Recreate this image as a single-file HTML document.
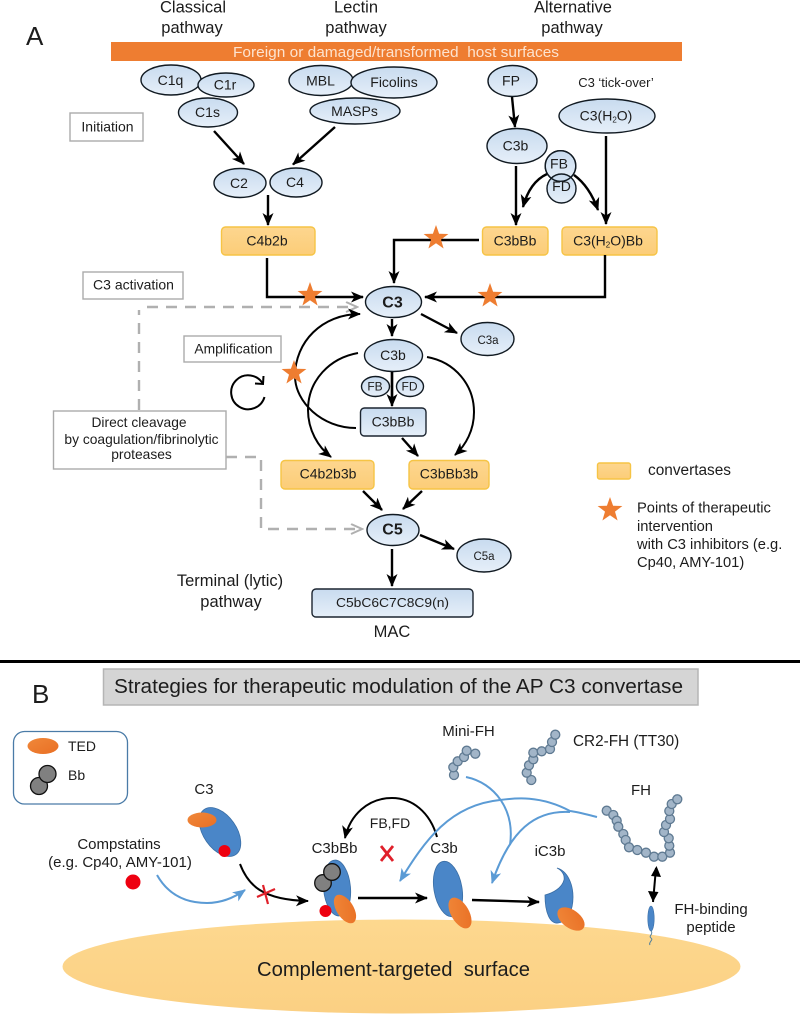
<!DOCTYPE html>
<html><head><meta charset="utf-8"><style>
html,body{margin:0;padding:0;background:#fff}
svg{display:block}
text{font-family:"Liberation Sans",sans-serif;fill:#1c1c1c;text-anchor:middle}
.l{text-anchor:start}
.n{stroke:#111a22;stroke-width:1.4;fill:url(#nb)}
.r{stroke:#1c2530;stroke-width:1.4;fill:url(#nb)}
.o{stroke:#f6c445;stroke-width:1.4;fill:url(#ob)}
.k{fill:none;stroke:#000;stroke-width:2.4;marker-end:url(#a)}
.k0{fill:none;stroke:#000;stroke-width:2.4}
.t{fill:none;stroke:#000;stroke-width:2;marker-end:url(#a)}
.g{fill:#fff;stroke:#aaa;stroke-width:1.4}
.d{fill:none;stroke:#b0b0b0;stroke-width:2.4;stroke-dasharray:11 8}
.bl{fill:none;stroke:#5b9bd5;stroke-width:2;marker-end:url(#ab)}
.b{fill:#a2b5c8;stroke:#5f7a92;stroke-width:1.3}
.p{fill:#4a86c8;stroke:#3a6ea5;stroke-width:.8}
.te{fill:url(#tg)}
.s13{font-size:13.8px}.s14{font-size:14px}.s15{font-size:15px}.s16{font-size:16.5px}
</style></head><body>
<svg width="800" height="1014" viewBox="0 0 800 1014" xmlns="http://www.w3.org/2000/svg">
<defs>
<linearGradient id="nb" x1="0" y1="0" x2="0" y2="1"><stop offset="0" stop-color="#c8dbef"/><stop offset="1" stop-color="#e6eff9"/></linearGradient>
<linearGradient id="ob" x1="0" y1="0" x2="0" y2="1"><stop offset="0" stop-color="#fdd68f"/><stop offset="1" stop-color="#fccd78"/></linearGradient>
<linearGradient id="tg" x1="0" y1="0" x2="1" y2="1"><stop offset="0" stop-color="#f0883a"/><stop offset="1" stop-color="#e96f24"/></linearGradient>
<linearGradient id="sf" x1="0" y1="0" x2="0" y2="1"><stop offset="0" stop-color="#fdd88f"/><stop offset="1" stop-color="#fbd083"/></linearGradient>
<marker id="a" markerUnits="userSpaceOnUse" markerWidth="14" markerHeight="12" refX="12" refY="5.5" orient="auto"><path d="M0,0 L13,5.5 L0,11 L3.5,5.5z" fill="#000"/></marker>
<marker id="ag" markerUnits="userSpaceOnUse" markerWidth="14" markerHeight="12" refX="12" refY="5.5" orient="auto"><path d="M1,0.5 L12,5.5 L1,10.5" fill="none" stroke="#b0b0b0" stroke-width="2"/></marker>
<marker id="ab" markerUnits="userSpaceOnUse" markerWidth="14" markerHeight="12" refX="12" refY="5.5" orient="auto"><path d="M0,0 L13,5.5 L0,11 L3.5,5.5z" fill="#5b9bd5"/></marker>
<polygon id="star" fill="#ee7d31" points="0,-13 3.1,-4.2 12.4,-4 5,1.6 7.6,10.5 0,5.2 -7.6,10.5 -5,1.6 -12.4,-4 -3.1,-4.2"/>
</defs>
<rect width="800" height="1014" fill="#fff"/>

<!-- Panel A -->
<text class="l" x="26" y="45" font-size="26">A</text>
<text class="s16" x="193" y="12.500">Classical</text><text class="s16" x="192" y="33">pathway</text>
<text class="s16" x="356" y="12.500">Lectin</text><text class="s16" x="356" y="33">pathway</text>
<text class="s16" x="573" y="12.500">Alternative</text><text class="s16" x="572" y="33">pathway</text>
<rect x="111" y="42" width="571" height="19" fill="#ee7d31"/>
<text x="396" y="57" font-size="15" style="fill:#fde3cf" xml:space="preserve" textLength="326" lengthAdjust="spacingAndGlyphs">Foreign or damaged/transformed  host surfaces</text>

<ellipse class="n" cx="171" cy="80" rx="30" ry="15"/>
<ellipse class="n" cx="226" cy="85" rx="28" ry="12"/>
<ellipse class="n" cx="208" cy="112.500" rx="29.500" ry="14.500"/>
<ellipse class="n" cx="321" cy="80.500" rx="32" ry="15"/>
<ellipse class="n" cx="394" cy="82.500" rx="43" ry="15.500"/>
<ellipse class="n" cx="355" cy="111" rx="45" ry="13"/>
<ellipse class="n" cx="512.500" cy="81" rx="24.500" ry="15.500"/>
<ellipse class="n" cx="607" cy="116" rx="48" ry="17"/>
<ellipse class="n" cx="517" cy="146" rx="30" ry="17.500"/>
<ellipse class="n" cx="240" cy="183" rx="26" ry="14.500"/>
<ellipse class="n" cx="296" cy="182.500" rx="26" ry="14.500"/>
<rect class="o" x="221.500" y="227" width="93.500" height="28" rx="4"/>
<rect class="o" x="482.500" y="227" width="65.500" height="28" rx="4"/>
<rect class="o" x="562" y="227" width="95" height="28" rx="4"/>

<text class="s14" x="170.500" y="85">C1q</text>
<text class="s14" x="225" y="89.500">C1r</text>
<text class="s14" x="207.500" y="117">C1s</text>
<text class="s14" x="320.500" y="85.500">MBL</text>
<text class="s14" x="394" y="87">Ficolins</text>
<text class="s14" x="354.500" y="116">MASPs</text>
<text class="s14" x="511" y="85.500">FP</text>
<text x="616" y="87" font-size="13">C3 ‘tick-over’</text>
<text class="s14" x="606" y="120.500">C3(H<tspan font-size="8" dy="2">2</tspan><tspan dy="-2">O)</tspan></text>
<text class="s14" x="515.500" y="150.500">C3b</text>
<text class="s14" x="239" y="188">C2</text>
<text class="s14" x="295" y="187">C4</text>
<text class="s14" x="267" y="245.500">C4b2b</text>
<text class="s14" x="515" y="245.500">C3bBb</text>
<text class="s14" x="608" y="245.500">C3(H<tspan font-size="8" dy="2">2</tspan><tspan dy="-2">O)Bb</tspan></text>

<rect class="g" x="70" y="113" width="73" height="28"/><text class="s14" x="107.500" y="131.500">Initiation</text>
<rect class="g" x="83" y="272" width="100" height="27"/><text class="s14" x="133.500" y="289.500">C3 activation</text>
<rect class="g" x="184" y="336" width="97" height="26"/><text class="s13" x="233.500" y="353.500">Amplification</text>
<rect class="g" x="53.500" y="411" width="172.500" height="58"/>
<text class="s13" x="139" y="427">Direct cleavage</text>
<text class="s13" x="141.500" y="444">by coagulation/fibrinolytic</text>
<text class="s13" x="141.500" y="459">proteases</text>

<!-- Arrows top -->
<line class="k" x1="214" y1="131" x2="244" y2="164"/>
<line class="k" x1="335" y1="127" x2="293" y2="164.500"/>
<line class="k" x1="268" y1="195" x2="268" y2="225"/>
<path class="k" d="M267,258V297H363"/>
<path class="k" d="M479,240H394V283"/>
<path class="k" d="M605,255V297H425"/>
<line class="k" x1="512" y1="97" x2="515" y2="127"/>
<line class="k" x1="516" y1="166" x2="516" y2="225"/>
<line class="k" x1="606" y1="136" x2="606" y2="224"/>
<path class="k" d="M547,174C534,180 527,192 523,207"/>
<path class="k" d="M574,175C585,183 593,196 598,210"/>
<circle class="n" cx="560.500" cy="166" r="15.300"/>
<circle class="n" cx="561.500" cy="188.500" r="14.500"/>
<circle class="n" cx="560.500" cy="166" r="15.300" style="fill:none"/>
<text class="s14" x="559" y="168.500">FB</text>
<text class="s14" x="561.500" y="191">FD</text>

<!-- Dashed -->
<path class="d" d="M139,410V310"/>
<path class="d" d="M147,307H357" marker-end="url(#ag)"/>
<path class="d" d="M226,457H261V529H362" marker-end="url(#ag)"/>

<!-- Lower nodes -->
<path class="t" d="M356,428C322,428 295,402 295,376C295,342 322,314 360,314"/>
<path class="t" d="M358,353C330,358 308,380 308,410C308,430 318,447 331,457"/>
<path class="t" d="M427,357C455,362 474,385 474,412C474,430 466,445 455,455"/>
<line class="k" x1="421" y1="314" x2="457" y2="333"/>
<line class="k" x1="392" y1="319" x2="392" y2="336"/>
<line class="k" x1="392" y1="372" x2="392" y2="406"/>
<line class="k" x1="402" y1="438" x2="418" y2="456"/>
<line class="k" x1="363" y1="491" x2="382" y2="510"/>
<line class="k" x1="422" y1="491" x2="403" y2="509"/>
<line class="k" x1="420" y1="535" x2="454" y2="549"/>
<line class="k" x1="392" y1="549" x2="392" y2="586"/>

<ellipse class="n" cx="393.500" cy="302" rx="28" ry="15.500"/>
<ellipse class="n" cx="487.500" cy="339" rx="26.500" ry="16.500"/>
<ellipse class="n" cx="393.500" cy="355.500" rx="29" ry="16"/>
<ellipse class="n" cx="375.500" cy="386.500" rx="14" ry="10"/>
<ellipse class="n" cx="410" cy="386.500" rx="13.500" ry="10"/>
<line class="k0" x1="392" y1="372" x2="392" y2="400"/>
<rect class="r" x="360.500" y="408" width="65.500" height="28" rx="4"/>
<rect class="o" x="281" y="460.500" width="93" height="28.500" rx="4"/>
<rect class="o" x="409" y="460.500" width="80" height="28.500" rx="4"/>
<ellipse class="n" cx="393" cy="530" rx="26" ry="15.500"/>
<ellipse class="n" cx="484" cy="555.500" rx="27" ry="16.500"/>
<rect class="r" x="312" y="589" width="161" height="28" rx="4"/>

<text x="392.500" y="307.500" font-size="16" font-weight="bold">C3</text>
<text x="488" y="344" font-size="11.500">C3a</text>
<text class="s14" x="393" y="360">C3b</text>
<text x="375" y="390.500" font-size="12">FB</text>
<text x="409.500" y="390.500" font-size="12">FD</text>
<text class="s14" x="393" y="426.500">C3bBb</text>
<text class="s14" x="328" y="478.500">C4b2b3b</text>
<text class="s14" x="449" y="478.500">C3bBb3b</text>
<text x="392.500" y="534.500" font-size="16" font-weight="bold">C5</text>
<text x="484" y="560" font-size="11.500">C5a</text>
<text x="392.500" y="607" font-size="12.500" textLength="113" lengthAdjust="spacingAndGlyphs">C5bC6C7C8C9(n)</text>
<text class="s16" x="230" y="586">Terminal (lytic)</text>
<text class="s16" x="231" y="607">pathway</text>
<text x="392" y="637" font-size="16.500">MAC</text>

<!-- Cycle -->
<path d="M263,384A17,17 0 1 0 264.500,397" fill="none" stroke="#000" stroke-width="2"/>
<path d="M255,383.500L263,384L263.500,376" fill="none" stroke="#000" stroke-width="2"/>

<use href="#star" x="310" y="295"/>
<use href="#star" x="436" y="238"/>
<use href="#star" x="490" y="296"/>
<use href="#star" x="294" y="373"/>

<!-- Legend A -->
<rect class="o" x="597.500" y="463" width="33" height="16" rx="2"/>
<text class="l" x="648" y="475" font-size="15.400">convertases</text>
<use href="#star" x="610" y="510"/>
<text class="l" x="637" y="512.500" font-size="14.700">Points of therapeutic</text>
<text class="l" x="637" y="531" font-size="14.700">intervention</text>
<text class="l" x="637" y="549" font-size="14.700">with C3 inhibitors (e.g.</text>
<text class="l" x="637" y="567" font-size="14.700">Cp40, AMY-101)</text>

<rect x="0" y="660" width="800" height="3" fill="#000"/>

<!-- Panel B -->
<text class="l" x="32" y="703" font-size="26">B</text>
<rect x="103.500" y="669" width="594.500" height="36" fill="#d5d5d5" stroke="#b5b5b5" stroke-width="1.500"/>
<text x="398.500" y="693" font-size="20" xml:space="preserve" textLength="569" lengthAdjust="spacingAndGlyphs">Strategies for therapeutic modulation of the AP C3 convertase</text>

<rect x="13.500" y="731.500" width="114" height="72.500" rx="11" fill="#fff" stroke="#4a7ba7" stroke-width="1.300"/>
<ellipse class="te" cx="43" cy="746" rx="15.500" ry="8"/>
<circle cx="39" cy="786" r="8.500" fill="#808080" stroke="#111" stroke-width="1.300"/>
<circle cx="47.500" cy="774" r="8.500" fill="#808080" stroke="#111" stroke-width="1.300"/>
<text class="l" x="68" y="751" font-size="14">TED</text>
<text class="l" x="68" y="780" font-size="14">Bb</text>

<ellipse cx="401.500" cy="966.500" rx="339" ry="47" fill="url(#sf)"/>
<text x="393.500" y="976" font-size="20" xml:space="preserve" textLength="273" lengthAdjust="spacingAndGlyphs">Complement-targeted  surface</text>

<!-- C3 -->
<text class="s15" x="204" y="794">C3</text>
<ellipse class="p" cx="220" cy="832" rx="16.500" ry="27.500" transform="rotate(-35 220 832)"/>
<ellipse class="te" cx="202" cy="820" rx="14.500" ry="7.500"/>
<circle cx="224.500" cy="851" r="6" fill="#ee0010"/>
<text class="s15" x="119" y="849">Compstatins</text>
<text class="s15" x="120" y="867">(e.g. Cp40, AMY-101)</text>
<circle cx="133" cy="882" r="7.500" fill="#ee0010"/>
<path class="bl" d="M157,875C170,898 190,903 207,903C222,903 235,897 245,890"/>
<path d="M240,864C248,885 262,900 308,901" fill="none" stroke="#000" stroke-width="2" marker-end="url(#a)"/>
<g stroke="#e0202a" stroke-width="2.200" fill="none"><line x1="263" y1="885" x2="268" y2="904"/><line x1="257" y1="897" x2="275" y2="889"/></g>

<!-- C3bBb -->
<text class="s15" x="334.500" y="853">C3bBb</text>
<ellipse class="p" cx="337" cy="888" rx="13.500" ry="28" transform="rotate(-5 337 888)"/>
<circle cx="323" cy="883" r="8.300" fill="#808080" stroke="#111" stroke-width="1.300"/>
<circle cx="332" cy="872" r="8.300" fill="#808080" stroke="#111" stroke-width="1.300"/>
<ellipse class="te" cx="345" cy="909" rx="8.500" ry="16" transform="rotate(-32 345 909)"/>
<circle cx="325.500" cy="911" r="6" fill="#ee0010"/>

<path class="t" d="M437,837C430,812 412,798 392,798C368,798 350,815 345,838"/>
<text class="s14" x="390" y="828">FB,FD</text>
<g stroke="#e0202a" stroke-width="2.800" fill="none"><line x1="381" y1="846" x2="393" y2="861"/><line x1="393" y1="846" x2="381" y2="861"/></g>
<line class="k" x1="358" y1="898" x2="427" y2="898"/>
<text class="s15" x="444" y="853">C3b</text>
<ellipse class="p" cx="448" cy="889" rx="14" ry="28" transform="rotate(-10 448 889)"/>
<ellipse class="te" cx="460" cy="913" rx="9" ry="17" transform="rotate(-30 460 913)"/>
<line class="k" x1="472" y1="900" x2="539" y2="902"/>
<text class="s15" x="550" y="856">iC3b</text>
<path class="p" d="M557,868C568,871 573,885 573,897C573,910 568,922 558,923C550,924 545,913 545,895C553,893 562,888 564,880C565,874 561,870 557,868Z"/>
<ellipse class="te" cx="571" cy="919" rx="9" ry="15.500" transform="rotate(-54 571 919)"/>

<!-- Blue curves -->
<path class="bl" d="M597,817C585,814 578,812 570,811C540,795 515,798 500,800C450,805 425,840 400,881"/>
<path class="bl" d="M570,812C535,810 510,830 492,883"/>
<path d="M466,777C495,783 515,810 510,845" fill="none" stroke="#5b9bd5" stroke-width="2"/>

<!-- Chains -->
<text class="s15" x="468.500" y="736">Mini-FH</text>
<g>
<circle class="b" cx="454" cy="775" r="4.500"/><circle class="b" cx="453.300" cy="767.300" r="4.500"/><circle class="b" cx="457.700" cy="761.300" r="4.500"/><circle class="b" cx="464" cy="757" r="4.500"/><circle class="b" cx="466.700" cy="750.700" r="4.500"/><circle class="b" cx="475.300" cy="753.700" r="4.500"/>
<circle class="b" cx="531.300" cy="780" r="4.500"/><circle class="b" cx="526.700" cy="772.700" r="4.500"/><circle class="b" cx="529" cy="765.300" r="4.500"/><circle class="b" cx="533.300" cy="759.300" r="4.500"/><circle class="b" cx="533.300" cy="752.700" r="4.500"/><circle class="b" cx="541.700" cy="751.300" r="4.500"/><circle class="b" cx="550" cy="749" r="4.500"/><circle class="b" cx="552" cy="742" r="4.500"/><circle class="b" cx="555.300" cy="734.700" r="4.500"/>
<circle class="b" cx="606.700" cy="810.700" r="4.500"/><circle class="b" cx="613.300" cy="815" r="4.500"/><circle class="b" cx="616.700" cy="820.700" r="4.500"/><circle class="b" cx="618.300" cy="826.700" r="4.500"/><circle class="b" cx="623.300" cy="834" r="4.500"/><circle class="b" cx="625.700" cy="840" r="4.500"/><circle class="b" cx="629" cy="847.300" r="4.500"/><circle class="b" cx="637.300" cy="850" r="4.500"/><circle class="b" cx="646" cy="852.700" r="4.500"/><circle class="b" cx="654" cy="856.700" r="4.500"/><circle class="b" cx="662.300" cy="856.700" r="4.500"/><circle class="b" cx="670" cy="852.700" r="4.500"/><circle class="b" cx="669.300" cy="845.700" r="4.500"/><circle class="b" cx="668.700" cy="838.300" r="4.500"/><circle class="b" cx="664" cy="832" r="4.500"/><circle class="b" cx="666" cy="825" r="4.500"/><circle class="b" cx="670" cy="819" r="4.500"/><circle class="b" cx="669.300" cy="811" r="4.500"/><circle class="b" cx="671.700" cy="804" r="4.500"/><circle class="b" cx="677.300" cy="799.300" r="4.500"/>
</g>
<text class="l" x="573" y="746" font-size="15.300">CR2-FH (TT30)</text>
<text class="s15" x="641" y="795">FH</text>

<!-- FH peptide -->
<path d="M656,868L653,902" fill="none" stroke="#000" stroke-width="2"/>
<path d="M656.500,866L661,877L651,876Z" fill="#000"/>
<path d="M653,902L648,891L658.500,892Z" fill="#000"/>
<ellipse cx="651" cy="918.500" rx="3.200" ry="12.500" fill="#4a86c8" stroke="#3a6ea5" stroke-width=".6"/>
<path d="M651,931C654,934 648,936 651,938C654,940 648,942 650,945" fill="none" stroke="#4d7e9e" stroke-width="1"/>
<text class="s15" x="711" y="914">FH-binding</text>
<text class="s15" x="711" y="932">peptide</text>
</svg>
</body></html>
